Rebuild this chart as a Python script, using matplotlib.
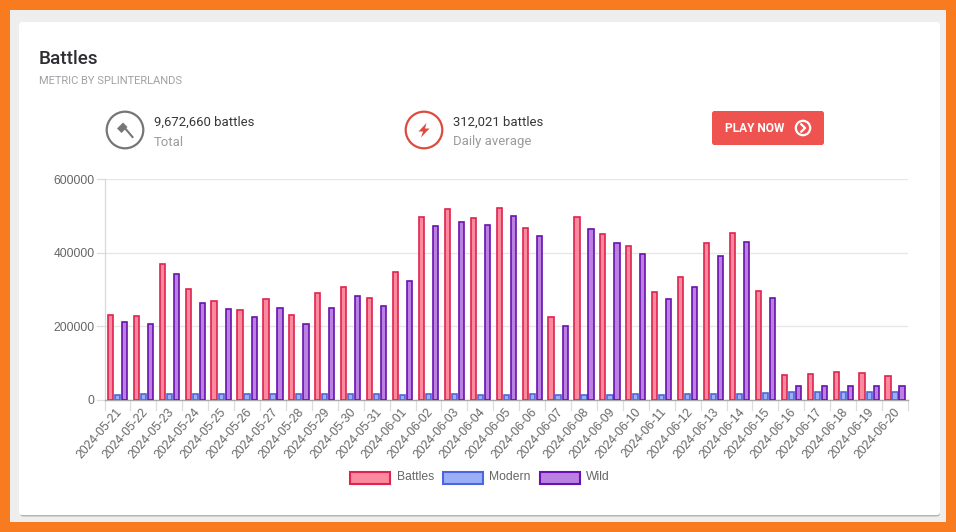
import matplotlib
matplotlib.use("Agg")
import matplotlib.pyplot as plt
from matplotlib.patches import Rectangle, FancyBboxPatch, Circle, Polygon
from matplotlib.lines import Line2D
from matplotlib.transforms import blended_transform_factory, ScaledTranslation
import numpy as np
import pandas as pd

dates = [d.strftime("%Y-%m-%d") for d in pd.date_range("2024-05-21", "2024-06-20")]
battles = [232000,229000,368000,302000,270000,244000,275000,232000,290000,306000,276000,
           348000,497000,519000,493000,520000,468000,225000,497000,451000,417000,294000,
           333000,426000,453000,296000,67000,70000,77000,73000,65000]
modern = [13000,16000,15000,16000,16000,16000,16000,15000,16000,16000,15000,
          13000,15000,15000,14000,14000,15000,13000,13000,14000,15000,13000,
          16000,16000,16000,18000,22000,22000,21000,23000,21000]
wild = [211000,207000,342000,262000,248000,224000,251000,206000,251000,283000,254000,
        324000,472000,482000,474000,500000,446000,201000,463000,427000,396000,275000,
        307000,391000,428000,276000,38000,38000,38000,38000,38000]
series_names = ["Battles", "Modern", "Wild"]
y_ticks = [0, 200000, 400000, 600000]

W, H = 956, 532
fig = plt.figure(figsize=(W/100, H/100), dpi=100, facecolor="#F97B20")

bg = fig.add_axes([0, 0, 1, 1], zorder=0)
bg.set_xlim(0, W); bg.set_ylim(H, 0); bg.axis("off")
bg.add_patch(Rectangle((10, 10), 936, 512, fc="#EEEEEE", ec="none"))
bg.add_patch(FancyBboxPatch((20, 24), 920, 492.5, boxstyle="round,pad=0,rounding_size=3", fc="#B5B5B5", ec="none"))
bg.add_patch(FancyBboxPatch((19, 22), 921, 493, boxstyle="round,pad=0,rounding_size=3", fc="white", ec="none"))

RB = "Roboto"
bg.text(39, 59, "Battles", fontsize=13.6, family=RB, weight="medium", color="#2F2F33", va="center")
bg.text(39, 80.5, "METRIC BY SPLINTERLANDS", fontsize=7.97, family=RB, color="#A0A0A6", va="center")

# stat 1
bg.add_patch(Circle((125, 130), 18.3, fc="none", ec="#767676", lw=1.6))
bg.add_line(Line2D([124, 132.5], [127, 137], color="#767676", lw=1.5))
bg.add_patch(Polygon([[117, 128.5], [123, 122.5], [127.5, 127], [121.5, 133]], fc="#767676", ec="none"))
bg.text(154, 122, "9,672,660 battles", fontsize=9.45, family=RB, color="#37373B", va="center")
bg.text(154, 142, "Total", fontsize=9.45, family=RB, color="#9B9BA0", va="center")

# stat 2
bg.add_patch(Circle((424, 130), 18.3, fc="none", ec="#DD4B3E", lw=1.6))
bg.add_patch(Polygon([[426.5, 123], [418.5, 131.5], [423, 131.5], [421, 137.5], [429.5, 128.5], [425, 128.5]], fc="#DD4B3E", ec="none"))
bg.text(453, 122, "312,021 battles", fontsize=9.45, family=RB, color="#37373B", va="center")
bg.text(453, 142, "Daily average", fontsize=9.45, family=RB, color="#9B9BA0", va="center")

# button
bg.add_patch(FancyBboxPatch((712, 111), 112, 34, boxstyle="round,pad=0,rounding_size=2.5", fc="#EF5350", ec="none"))
bg.text(725, 128, "PLAY NOW", fontsize=8.6, family=RB, weight="bold", color="white", va="center")
bg.add_patch(Circle((803, 128), 7.2, fc="none", ec="white", lw=1.6))
bg.add_line(Line2D([801.3, 805, 801.3], [124.3, 128, 131.7], color="white", lw=1.6))

# chart
L, R, T, B = 104.5, 908, 179, 400
ax = fig.add_axes([L/W, 1-B/H, (R-L)/W, (B-T)/H], zorder=1)
ax.patch.set_alpha(0)
x = np.arange(len(dates))
bw, step = 0.2, 0.272
red = dict(fc="#FB8A9F", ec="#E0234F")
blue = dict(fc="#9DAEF8", ec="#4A68DC")
purp = dict(fc="#BA80E2", ec="#6A12AE")
ax.bar(x-step, battles, bw, lw=1.2, zorder=3, **red)
ax.bar(x, modern, bw, lw=1.2, zorder=3, **blue)
ax.bar(x+step, wild, bw, lw=1.2, zorder=3, **purp)

ax.set_xlim(-0.5, len(dates)-0.5)
ax.set_ylim(0, 600000)
ax.set_yticks(y_ticks)
ax.set_yticklabels([str(v) for v in y_ticks], family="Liberation Sans", fontsize=8.75, color="#666666")
ax.set_xticks(x)
ax.set_xticklabels(dates, rotation=49, ha="right", va="center", rotation_mode="anchor",
                   family="Liberation Sans", fontsize=8.75, color="#666666")
ax.tick_params(axis="x", length=0, pad=7)
ax.tick_params(axis="y", length=0, pad=7)
shift = ScaledTranslation(3/100, 0, fig.dpi_scale_trans)
for lab in ax.get_xticklabels():
    lab.set_transform(lab.get_transform() + shift)
ax.grid(axis="y", color="#E6E6E6", lw=0.9, zorder=0)
ax.set_axisbelow(True)
for s in ["top", "right"]:
    ax.spines[s].set_visible(False)
ax.spines["left"].set_color("#D8D8D8"); ax.spines["left"].set_linewidth(0.9)
ax.spines["bottom"].set_color("#A8A8A8"); ax.spines["bottom"].set_linewidth(1.0)

# category-boundary ticks (below axis) and y ticks, drawn on the unclipped page axes
trx = blended_transform_factory(ax.transData, bg.transData)
for e in np.arange(-0.5, len(dates), 1):
    bg.add_line(Line2D([e, e], [400, 410], transform=trx, color="#DDDDDD", lw=0.9))
try_ = blended_transform_factory(bg.transData, ax.transData)
for v in y_ticks:
    bg.add_line(Line2D([97, 104.5], [v, v], transform=try_, color="#DDDDDD", lw=0.9))

# legend
items = [(350, red, series_names[0], 397), (443, blue, series_names[1], 489), (539.5, purp, series_names[2], 586)]
for x0, st, name, tx in items:
    bg.add_patch(Rectangle((x0+0.5, 471.5), 40, 12.5, lw=1.5, **st))
    bg.text(tx, 477, name, fontsize=8.75, family="Liberation Sans", color="#666666", va="center")

fig.savefig("out.png", dpi=100, facecolor=fig.get_facecolor())
